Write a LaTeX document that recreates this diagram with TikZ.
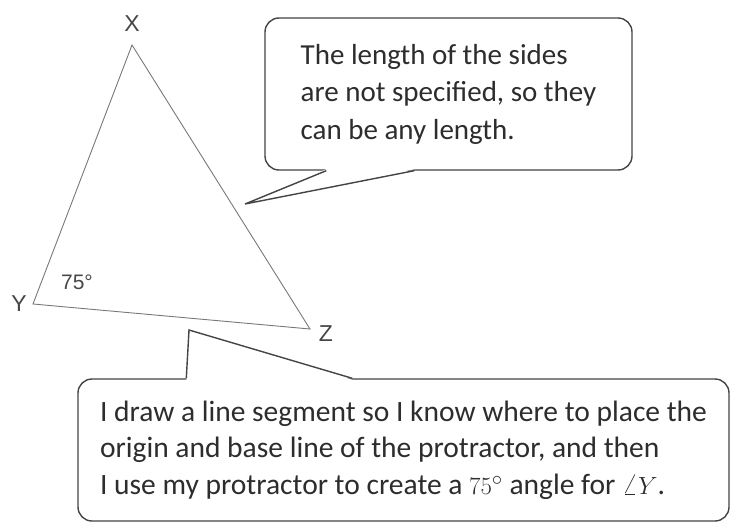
\documentclass[tikz,border=0pt]{standalone}
\usepackage{fontspec}
\setmainfont{Carlito}
\newfontfamily\labelfont{Liberation Sans}
\usepackage{tikz}
\usetikzlibrary{positioning, calc}
\definecolor{TriGray}{RGB}{120, 120, 120}
\definecolor{BubbleEdge}{RGB}{68, 68, 68}
\definecolor{BubbleText}{RGB}{45, 45, 45}
\definecolor{LabelGray}{RGB}{70, 70, 70}

\begin{document}
\begin{tikzpicture}[x=1pt,y=-1pt,
  bubble/.style={draw=BubbleEdge, line width=1.4pt, rounded corners=14pt, fill=white,
    align=left, text=BubbleText, inner sep=0pt},
  pointer/.style={draw=BubbleEdge, line width=1.4pt, line join=miter},
  side/.style={draw=TriGray, line width=0.9pt, line join=miter},
  vertexlabel/.style={text=LabelGray, inner sep=0pt,
    font=\labelfont\fontsize{23}{26}\selectfont}]
  \useasboundingbox (0,0) rectangle (734,527);

  % triangle XYZ
  \coordinate (Y) at (33,304);
  \coordinate (X) at (132,45);
  \coordinate (Z) at (310,329);
  \draw[side] (Y) -- (X) -- (Z) -- cycle;
  \node[vertexlabel] (labX) at (132,24) {X};
  \node[vertexlabel] (labY) at (19,304) {Y};
  \node[vertexlabel] (labZ) at (326,334) {Z};
  \node[vertexlabel, font=\labelfont\fontsize{21}{24}\selectfont] (labAng) at (77,282) {75°};

  % upper speech bubble
  \node[bubble, minimum width=367pt, minimum height=152pt,
    font=\fontsize{29}{37.5}\selectfont] (sides) at (448.5,94) {The length of the sides\\
    are not specified, so they\\
    can be any length.};
  \coordinate (tipSides) at (245,204);
  \fill[white] ($(sides.south west)+(62,-1.5)$) -- (tipSides) -- ($(sides.south west)+(150,-1.5)$) -- cycle;
  \draw[pointer] ($(sides.south west)+(62,0)$) -- (tipSides) -- ($(sides.south west)+(150,0)$);

  % lower speech bubble
  \node[bubble, minimum width=651pt, minimum height=142pt,
    font=\fontsize{29.5}{36.5}\selectfont] (proc) at (403.5,450) {I draw a line segment so I know where to place the\\
    origin and base line of the protractor, and then\\
    I use my protractor to create a $75^\circ$ angle for $\angle Y$.};
  \coordinate (tipProc) at (189,330);
  \fill[white] ($(proc.north west)+(109,1.5)$) -- (tipProc) -- ($(proc.north west)+(275,1.5)$) -- cycle;
  \draw[pointer] ($(proc.north west)+(109,0)$) -- (tipProc) -- ($(proc.north west)+(275,0)$);
\end{tikzpicture}
\end{document}
